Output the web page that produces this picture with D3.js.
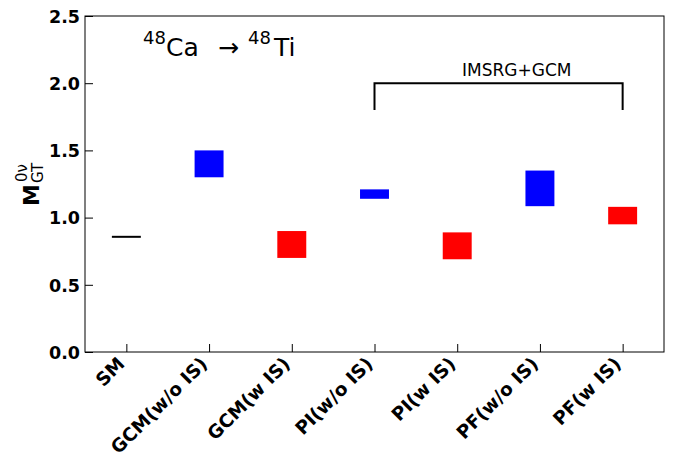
<!DOCTYPE html>
<html>
<head>
<meta charset="utf-8">
<script src="https://d3js.org/d3.v7.min.js"></script>
<style>
  body { margin: 0; background: #fff; }
  text { font-family: "DejaVu Sans", sans-serif; }
</style>
</head>
<body>
<script>
  // values
  var labels = ["SM", "GCM(w/o IS)", "GCM(w IS)", "PI(w/o IS)", "PI(w IS)", "PF(w/o IS)", "PF(w IS)"];
  var lows   = [0.857, 1.30, 0.70, 1.14, 0.69, 1.085, 0.95];
  var highs  = [0.857, 1.50, 0.90, 1.21, 0.89, 1.35, 1.08];
  var kinds  = ["sm", "noIS", "IS", "noIS", "IS", "noIS", "IS"];
  var yTicks = [0, 0.5, 1.0, 1.5, 2.0, 2.5];
  var bracket = { from: 3, to: 6, low: 1.8, high: 2.0, label: "IMSRG+GCM" };

  var W = 687, H = 458;
  var pLeft = 85, pRight = 664, pTop = 16, pBottom = 352;
  var color = { sm: "#000", noIS: "#0000ff", IS: "#ff0000" };

  var svg = d3.select("body").append("svg")
      .attr("width", W).attr("height", H);

  var x = d3.scaleLinear().domain([-0.5, 6.5]).range([pLeft, pRight]);
  var y = d3.scaleLinear().domain([0, 2.5]).range([pBottom, pTop]);
  var bw = 0.35;

  // boxes
  var data = labels.map(function(l, i) { return { i: i, lo: lows[i], hi: highs[i], k: kinds[i] }; });
  svg.selectAll("rect.box").data(data.filter(function(d) { return d.k !== "sm"; }))
    .enter().append("rect").attr("class", "box")
      .attr("x", function(d) { return x(d.i - bw / 2); })
      .attr("width", function(d) { return x(d.i + bw / 2) - x(d.i - bw / 2); })
      .attr("y", function(d) { return y(d.hi); })
      .attr("height", function(d) { return y(d.lo) - y(d.hi); })
      .attr("fill", function(d) { return color[d.k]; });

  svg.selectAll("line.sm").data(data.filter(function(d) { return d.k === "sm"; }))
    .enter().append("line").attr("class", "sm")
      .attr("x1", function(d) { return x(d.i - bw / 2); })
      .attr("x2", function(d) { return x(d.i + bw / 2); })
      .attr("y1", function(d) { return y(d.hi); })
      .attr("y2", function(d) { return y(d.hi); })
      .attr("stroke", "#000").attr("stroke-width", 2);

  // axes
  var yAxis = d3.axisLeft(y).tickValues(yTicks).tickFormat(d3.format(".1f"))
      .tickSizeInner(-8).tickSizeOuter(0);
  var gy = svg.append("g").attr("transform", "translate(" + pLeft + ",0)").call(yAxis);
  gy.selectAll("text").style("font-size", "17.5px").style("font-weight", "bold")
      .attr("fill", "#000").attr("x", -5).attr("dy", "0.36em");

  var xAxis = d3.axisBottom(x).tickValues(d3.range(labels.length))
      .tickFormat(function(i) { return labels[i]; })
      .tickSizeInner(-8).tickSizeOuter(0);
  var gx = svg.append("g").attr("transform", "translate(0," + pBottom + ")").call(xAxis);
  gx.selectAll("text")
      .style("font-size", "18.5px").style("font-weight", "bold").attr("fill", "#000")
      .attr("text-anchor", "end")
      .attr("y", 0).attr("dy", 0)
      .attr("transform", "translate(-1,13) rotate(-45)");
  svg.selectAll(".domain").remove();
  svg.selectAll(".tick line").attr("stroke", "#000").attr("stroke-width", 1);

  // frame
  svg.append("rect")
      .attr("x", pLeft).attr("y", pTop)
      .attr("width", pRight - pLeft).attr("height", pBottom - pTop)
      .attr("fill", "none").attr("stroke", "#000").attr("stroke-width", 1);

  // bracket
  svg.append("path")
      .attr("d", "M" + x(bracket.from) + "," + y(bracket.low) +
                 "V" + y(bracket.high) + "H" + x(bracket.to) + "V" + y(bracket.low))
      .attr("fill", "none").attr("stroke", "#000").attr("stroke-width", 2);
  svg.append("text")
      .attr("x", x(4.72)).attr("y", y(2.05))
      .attr("text-anchor", "middle")
      .style("font-size", "17px")
      .text(bracket.label);

  // title
  var t = svg.append("text").attr("y", 56).style("font-size", "25px");
  t.append("tspan").attr("x", 143).attr("y", 44).style("font-size", "18px").text("48");
  t.append("tspan").attr("x", 166).attr("y", 56).text("Ca");
  t.append("tspan").attr("x", 218).attr("y", 56).text("\u2192");
  t.append("tspan").attr("x", 248).attr("y", 44).style("font-size", "18px").text("48");
  t.append("tspan").attr("x", 274).attr("y", 56).text("Ti");

  // y label
  var yl = svg.append("g").attr("transform", "translate(39,206) rotate(-90)");
  yl.append("text").attr("x", 0).attr("y", 0)
      .style("font-size", "22px").style("font-weight", "bold").text("M");
  yl.append("text").attr("x", 24).attr("y", -12)
      .style("font-size", "15px").text("0\u03bd");
  yl.append("text").attr("x", 23).attr("y", 4)
      .style("font-size", "15px").text("GT");
</script>
</body>
</html>
